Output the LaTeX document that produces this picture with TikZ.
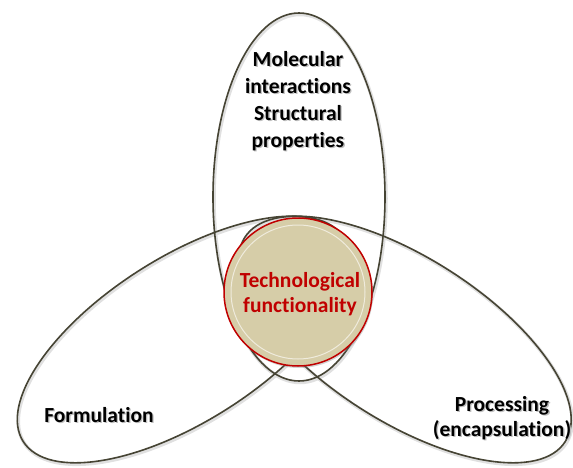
\documentclass[tikz,border=0pt]{standalone}
\usepackage{fontspec}
\setmainfont{Carlito}[Ligatures={NoCommon,NoContextual}]
\usetikzlibrary{shapes.geometric,shadows}

\definecolor{ringline}{RGB}{70,68,52}
\definecolor{techred}{RGB}{192,0,0}
\definecolor{techfill}{RGB}{214,205,168}

\tikzset{%
  every ring/.style={
    ellipse,
    draw=ringline,
    line width=1.6pt,
    inner sep=0pt
  },
  ring shadow/.style={
    draw=black!12,
    line width=3.5pt,
    shift={(1,1.5)}
  },
  field/.style={
    font=\bfseries\fontsize{21.5}{25}\selectfont,
    align=center
  },
  tall field/.style={
    field,
    font=\bfseries\fontsize{21.5}{27}\selectfont
  },
}

\begin{document}
\begin{tikzpicture}[x=1pt, y=-1pt]
        \useasboundingbox (0,0) rectangle (573,468);

        % the three rings, soft shadow underneath
        \foreach \n/\p/\w/\h/\r in {mol/{(299,197)}/172/368/0,
                                    form/{(183.5,339.5)}/380/164/32.5,
                                    proc/{(405,339.5)}/380/164/-32.5}
          \node [every ring/.try, ring shadow, minimum width=\w, minimum height=\h, rotate=\r] (\n-sh) at \p {};
        \foreach \n/\p/\w/\h/\r in {mol/{(299,197)}/172/368/0,
                                    form/{(183.5,339.5)}/380/164/32.5,
                                    proc/{(405,339.5)}/380/164/-32.5}
          \node [every ring/.try, minimum width=\w, minimum height=\h, rotate=\r] (\n) at \p {};

        % centre disc
        \node [circle, fill=techfill, draw=techred, line width=1.5pt, minimum size=148,
               drop shadow={opacity=0.35, shadow xshift=1pt, shadow yshift=-2pt}] (tech) at (298,292) {};
        \node [circle, draw=techfill!40!white, line width=1pt, minimum size=134] (tech-rim) at (tech) {};
        \node [field, text=techred] (tech-txt) at (300,294) {Technological\\functionality};

        % labels, each with a faint shadow
        \foreach \k/\c/\o in {sh/black!25/1.3, txt/black/0} {
          \node [tall field, text=\c] (mol-\k) at (298+\o,101+\o) {Molecular\\interactions\\Structural\\properties};
          \node [field, text=\c] (form-\k) at (99+\o,415+\o) {Formulation};
          \node [field, text=\c] (proc-\k) at (502+\o,418+\o) {Processing\\(encapsulation)};
        }
\end{tikzpicture}
\end{document}
